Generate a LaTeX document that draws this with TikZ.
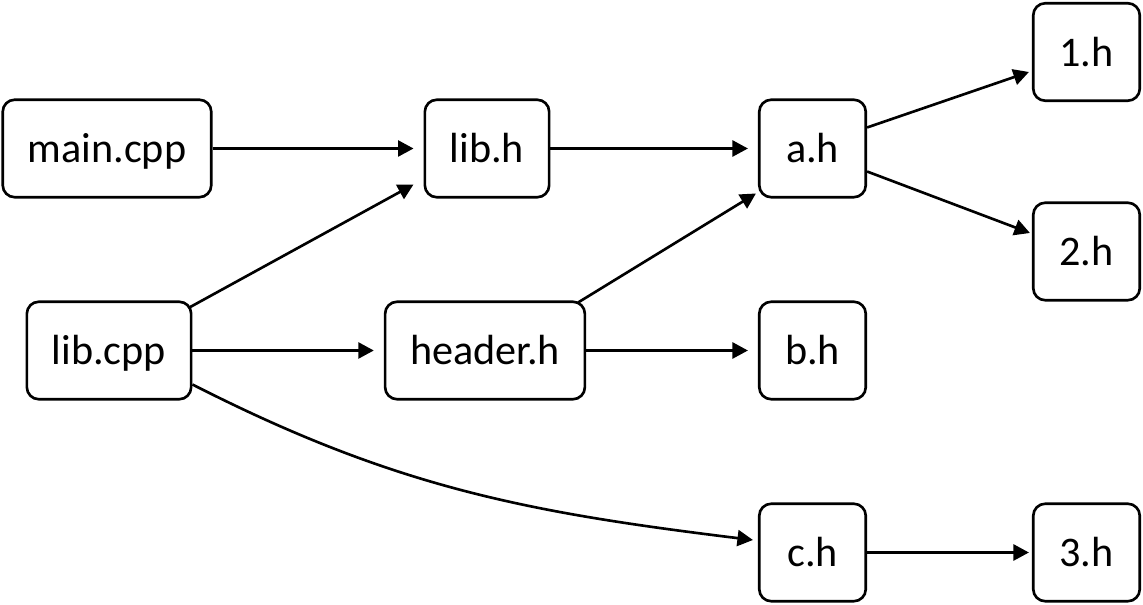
\documentclass[tikz,border=0pt]{standalone}
\usepackage{fontspec}
\setmainfont{Carlito}
\usepackage{tikz}
\usetikzlibrary{arrows.meta,calc}

\begin{document}
\begin{tikzpicture}[
  filebox/.style={draw, line width=1.5pt, rounded corners=0.24cm, inner xsep=0.5cm,
    minimum width=2.13cm, minimum height=1.95cm, text height=20pt, text depth=4pt,
    font=\fontsize{24}{29}\selectfont},
  dep/.style={line width=1.5pt, -{Triangle[length=0.31cm,width=0.32cm]}}]
\useasboundingbox (0,0) rectangle (22.86,12.1);
% files
\node[filebox] (maincpp) at (2.14,9.13) {main.cpp};
\node[filebox] (libcpp) at (2.18,5.09) {lib.cpp};
\node[filebox] (libh) at (9.74,9.13) {lib.h};
\node[filebox] (headerh) at (9.70,5.09) {header.h};
\node[filebox] (ah) at (16.25,9.13) {a.h};
\node[filebox] (bh) at (16.25,5.09) {b.h};
\node[filebox] (ch) at (16.25,1.05) {c.h};
\node[filebox] (oneh) at (21.73,11.06) {1.h};
\node[filebox] (twoh) at (21.73,7.07) {2.h};
\node[filebox] (threeh) at (21.73,1.05) {3.h};
% includes
\draw[dep, shorten >=0.2cm] (maincpp) -- (libh);
\draw[dep] ([shift={(-0.06,-0.14)}]libcpp.north east) -- ([shift={(-0.2,-0.72)}]libh.west);
\draw[dep, shorten >=0.2cm] (libcpp) -- (headerh);
\draw[dep] ([yshift=-0.68cm]libcpp.east) to[out=-27,in=173] ([shift={(-0.1,0.25)}]ch.west);
\draw[dep, shorten >=0.2cm] (libh) -- (ah);
\draw[dep] ([shift={(-0.16,-0.04)}]headerh.north east) -- ([shift={(-0.04,-0.9)}]ah.west);
\draw[dep, shorten >=0.2cm] (headerh) -- (bh);
\draw[dep] ([yshift=0.42cm]ah.east) -- ([shift={(-0.06,-0.4)}]oneh.west);
\draw[dep] ([yshift=-0.46cm]ah.east) -- ([shift={(-0.04,0.37)}]twoh.west);
\draw[dep, shorten >=0.06cm] (ch) -- (threeh);
\end{tikzpicture}
\end{document}
